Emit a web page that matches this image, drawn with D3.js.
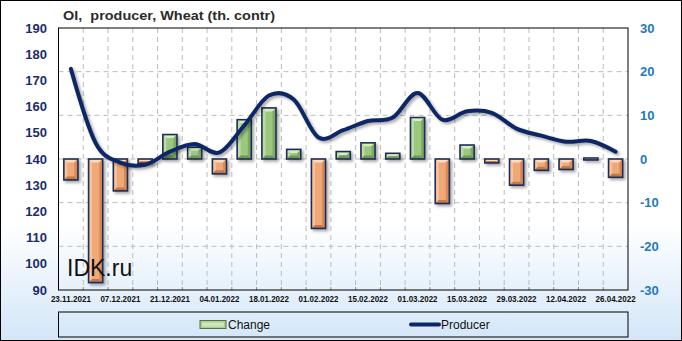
<!DOCTYPE html>
<html><head><meta charset="utf-8">
<script src="https://cdn.jsdelivr.net/npm/d3@7"></script>
<style>html,body{margin:0;padding:0;background:#fff}svg{display:block}</style>
</head><body>
<script>
const dates = ["23.11.2021","30.11.2021","07.12.2021","14.12.2021","21.12.2021","28.12.2021","04.01.2022","11.01.2022","18.01.2022","25.01.2022","01.02.2022","08.02.2022","15.02.2022","22.02.2022","01.03.2022","08.03.2022","15.03.2022","22.03.2022","29.03.2022","05.04.2022","12.04.2022","19.04.2022","26.04.2022"];
const change = [-4.8,-28.3,-7.3,-1.0,5.6,2.7,-3.4,9.0,11.7,2.2,-15.9,1.7,3.7,1.3,9.5,-10.2,3.2,-0.9,-6.0,-2.6,-2.4,0.3,-4.2];
const producer = [174.4,146.1,138.6,137.8,142.8,145.7,142.5,152.8,164.2,162.7,148.2,151.0,154.5,155.8,165.2,155.0,158.2,157.6,151.6,148.9,146.6,146.9,142.8];
const leftTicks = [90,100,110,120,130,140,150,160,170,180,190];
const rightTicks = [-30,-20,-10,0,10,20,30];
const title = "OI,  producer, Wheat (th. contr)";

const W = 682, H = 341;
const L = 58.5, R = 628, T = 28, B = 290;
const svg = d3.select("body").append("svg").attr("width", W).attr("height", H);
const defs = svg.append("defs");
const bg = defs.append("linearGradient").attr("id","bg").attr("x1",0).attr("y1",0).attr("x2",0).attr("y2",1);
bg.append("stop").attr("offset","0%").attr("stop-color","#ffffff");
bg.append("stop").attr("offset","66%").attr("stop-color","#ffffff");
bg.append("stop").attr("offset","100%").attr("stop-color","#d3e6f8");
const sh = defs.append("filter").attr("id","sh").attr("x","-20%").attr("y","-20%").attr("width","150%").attr("height","150%");
sh.append("feDropShadow").attr("dx",2).attr("dy",2).attr("stdDeviation",1.4).attr("flood-color","#000").attr("flood-opacity",0.35);

svg.append("rect").attr("x",0.5).attr("y",0.5).attr("width",W-1).attr("height",H-1).attr("fill","url(#bg)").attr("stroke","#000");

const x = d3.scaleBand().domain(dates).range([L, R]).padding(0);
const yL = d3.scaleLinear().domain([90,190]).range([B, T]);
const yR = d3.scaleLinear().domain([-30,30]).range([B, T]);

// grid
const g = svg.append("g");
dates.slice(1).forEach(d => {
  g.append("line").attr("x1", x(d)).attr("x2", x(d)).attr("y1", T).attr("y2", B)
    .attr("stroke","#bcbcbc").attr("stroke-dasharray","5,4");
});
rightTicks.filter(v => v > -30 && v < 30).forEach(v => {
  g.append("line").attr("x1", L).attr("x2", R).attr("y1", yR(v)).attr("y2", yR(v))
    .attr("stroke","#bcbcbc").attr("stroke-dasharray","5,4");
});
dates.slice(1).forEach(d => {
  g.append("line").attr("x1", x(d)).attr("x2", x(d)).attr("y1", B-3).attr("y2", B).attr("stroke","#888");
});

const font = "Liberation Sans, Arial, sans-serif";

// bars with bevel
const bw = x.bandwidth()*0.57;
const palettes = {
  pos: {c:"#9cc77f", t:"#d6edc6", l:"#bcdca6", r:"#7faa62", b:"#6e9853"},
  neg: {c:"#f1a877", t:"#fddcc2", l:"#f7c39e", r:"#d88a58", b:"#c27847"}
};
const bars = svg.append("g").attr("filter","url(#sh)");
dates.forEach((d,i) => {
  const v = change[i];
  const cx = x(d) + x.bandwidth()/2;
  const x0 = cx - bw/2, x1 = cx + bw/2;
  let y0 = Math.min(yR(v), yR(0)), y1 = Math.max(yR(v), yR(0));
  if (y1 - y0 < 1.5) { y0 = yR(0)-1; y1 = yR(0)+1; }
  const p = v >= 0 ? palettes.pos : palettes.neg;
  const gg = bars.append("g");
  const b = Math.min(3.5, (x1-x0)/2, (y1-y0)/2);
  gg.append("rect").attr("x",x0).attr("y",y0).attr("width",x1-x0).attr("height",y1-y0).attr("fill",p.c);
  const poly = pts => gg.append("polygon").attr("points", pts.map(q=>q.join(",")).join(" "));
  poly([[x0,y0],[x1,y0],[x1-b,y0+b],[x0+b,y0+b]]).attr("fill",p.t);
  poly([[x0,y0],[x0+b,y0+b],[x0+b,y1-b],[x0,y1]]).attr("fill",p.l);
  poly([[x1,y0],[x1,y1],[x1-b,y1-b],[x1-b,y0+b]]).attr("fill",p.r);
  poly([[x0,y1],[x0+b,y1-b],[x1-b,y1-b],[x1,y1]]).attr("fill",p.b);
  gg.append("rect").attr("x",x0).attr("y",y0).attr("width",x1-x0).attr("height",y1-y0)
    .attr("fill","none").attr("stroke","#1e2d58").attr("stroke-width",1.6);
});

// line
const line = d3.line().x((v,i) => x(dates[i]) + x.bandwidth()/2).y(v => yL(v)).curve(d3.curveCatmullRom.alpha(0));
svg.append("path").datum(producer).attr("d", line).attr("fill","none")
  .attr("stroke","#0c2766").attr("stroke-width",4).attr("stroke-linecap","round").attr("filter","url(#sh)");

// watermark (on top of bars)
svg.append("text").attr("x",67).attr("y",276).text("IDK.ru")
  .attr("font-family",font).attr("font-size",23).attr("fill","#111");

// plot border
svg.append("rect").attr("x",L).attr("y",T).attr("width",R-L).attr("height",B-T).attr("fill","none").attr("stroke","#000");

// axes labels
leftTicks.forEach(v => {
  svg.append("text").attr("x",47).attr("y",yL(v)).attr("dy","0.36em").attr("text-anchor","end")
    .attr("font-family",font).attr("font-weight","bold").attr("font-size",13).attr("fill","#1b2c6b").text(v);
});
rightTicks.forEach(v => {
  svg.append("text").attr("x",640).attr("y",yR(v)).attr("dy","0.36em").attr("text-anchor","start")
    .attr("font-family",font).attr("font-weight","bold").attr("font-size",13).attr("fill","#2378bf").text(v);
});
dates.forEach((d,i) => {
  if (i % 2 === 0) {
    svg.append("text").attr("x", x(d) + x.bandwidth()/2).attr("y", 302).attr("text-anchor","middle")
      .attr("font-family",font).attr("font-weight","bold").attr("font-size",8.5)
      .attr("textLength",40).attr("lengthAdjust","spacingAndGlyphs").attr("fill","#111").text(d);
  }
});

// title
svg.append("text").attr("x",63).attr("y",20).text(title).style("white-space","pre")
  .attr("font-family",font).attr("font-weight","bold").attr("font-size",13.5)
  .attr("textLength",212).attr("lengthAdjust","spacingAndGlyphs").attr("fill","#2b2b2b");

// legend
const lg = svg.append("g");
lg.append("rect").attr("x",L).attr("y",312).attr("width",R-L).attr("height",25).attr("fill","none").attr("stroke","#000");
lg.append("rect").attr("x",200).attr("y",320.5).attr("width",26).attr("height",8).attr("fill","#a9d08e").attr("stroke","#5a6e48").attr("stroke-width",1);
lg.append("rect").attr("x",202).attr("y",322.5).attr("width",22).attr("height",4).attr("fill","#cfe6bd");
lg.append("text").attr("x",228).attr("y",329).text("Change").attr("font-family",font).attr("font-size",12).attr("fill","#111");
lg.append("line").attr("x1",411).attr("x2",439).attr("y1",324.5).attr("y2",324.5).attr("stroke","#0c2766").attr("stroke-width",4).attr("stroke-linecap","round");
lg.append("text").attr("x",441).attr("y",329).text("Producer").attr("font-family",font).attr("font-size",12).attr("fill","#111");
</script>
</body></html>
